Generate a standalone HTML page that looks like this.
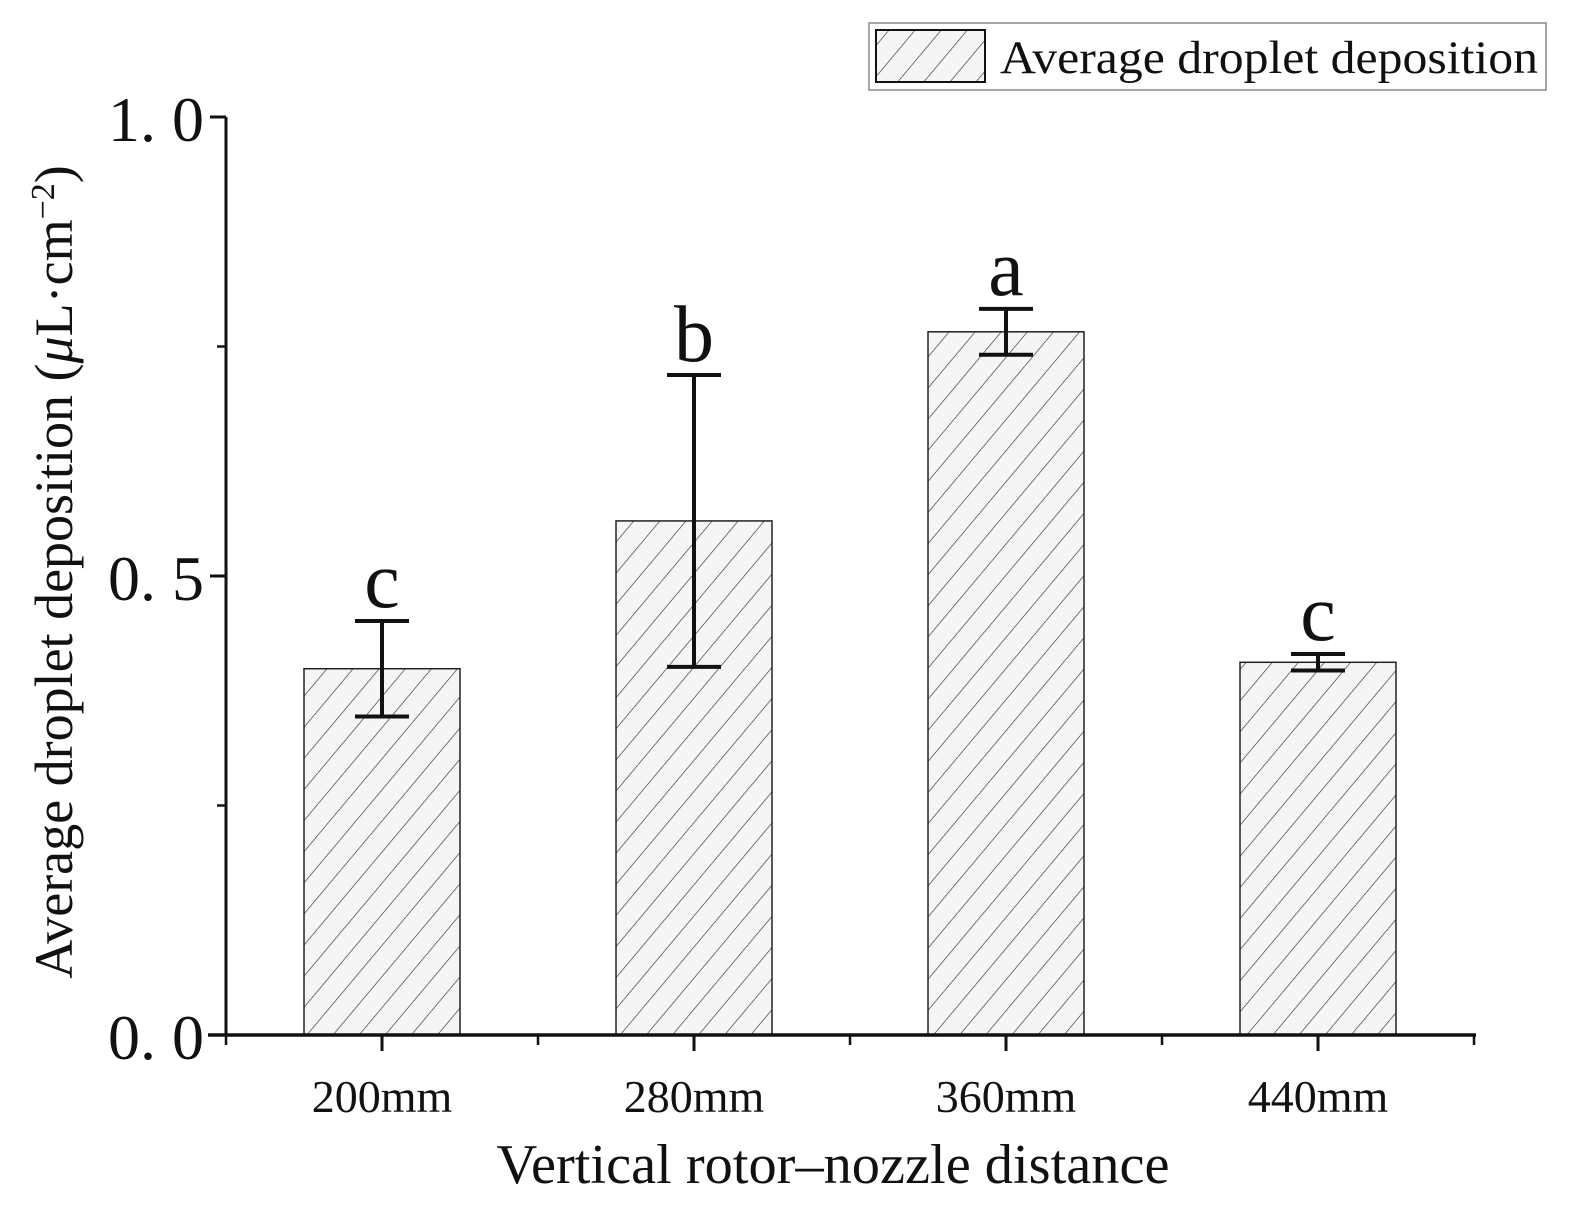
<!DOCTYPE html>
<html><head><meta charset="utf-8"><style>
html,body{margin:0;padding:0;background:#fff;}
svg{display:block;font-family:"Liberation Serif",serif;}
</style></head><body>
<svg id="chart" width="1577" height="1231" viewBox="0 0 1577 1231">
<defs>
<pattern id="hatch" patternUnits="userSpaceOnUse" width="20" height="20" patternTransform="rotate(40)">
<rect width="20" height="20" fill="#f5f5f5"/>
<line x1="0" y1="0" x2="0" y2="20" stroke="#333" stroke-width="1.3"/>
</pattern>
</defs>
<g id="bars"></g>
<g id="axes"></g>
<g>
<rect x="869" y="23" width="677" height="67" fill="#fff" stroke="#888" stroke-width="1.5"/>
<rect x="876" y="30" width="109" height="52" fill="url(#hatch)" stroke="#111" stroke-width="2"/>
<text x="1000" y="73" font-size="47" fill="#111" textLength="538" lengthAdjust="spacingAndGlyphs">Average droplet deposition</text>
</g>
<text x="833" y="1183" font-size="56" text-anchor="middle" fill="#111" textLength="673" lengthAdjust="spacingAndGlyphs">Vertical rotor–nozzle distance</text>
<text transform="translate(72,572) rotate(-90)" font-size="54" text-anchor="middle" fill="#111">Average droplet deposition (<tspan font-style="italic">μ</tspan>L·cm<tspan baseline-shift="super" font-size="34">−2</tspan>)</text>
</svg>
<script>
const categories = ["200mm","280mm","360mm","440mm"];
const values = [0.399, 0.560, 0.766, 0.406];
const errors = [0.052, 0.159, 0.025, 0.009];
const letters = ["c","b","a","c"];
const yTicks = [0.0, 0.5, 1.0];
const yTickLabels = ["0. 0","0. 5","1. 0"];
const yMinorTicks = [0.25, 0.75];

const NS = "http://www.w3.org/2000/svg";
const x0 = 226, x1 = 1474, yBase = 1035, yTop = 117;
const step = (x1 - x0) / categories.length;
const bw = 156;
function xC(i){ return x0 + step*(i+0.5); }
function yS(v){ return yBase - (yBase - yTop) * v; }
function mk(tag, attrs, parent){ const e=document.createElementNS(NS,tag); for(const k in attrs) e.setAttribute(k,attrs[k]); parent.appendChild(e); return e; }
const bars = document.getElementById('bars');
const axes = document.getElementById('axes');

categories.forEach((c,i)=>{
  const cx = xC(i), v = values[i], e = errors[i];
  const r = mk('rect',{x:cx-bw/2,y:yS(v),width:bw,height:yBase-yS(v),fill:'url(#hatch)',stroke:'#222','stroke-width':1.5},bars);
  
  
  const g = mk('g',{stroke:'#111','stroke-width':4,fill:'none'},bars);
  
  
  mk('line',{x1:cx,x2:cx,y1:yS(v+e),y2:yS(v-e)},g);
  mk('line',{x1:cx-27,x2:cx+27,y1:yS(v+e),y2:yS(v+e)},g);
  mk('line',{x1:cx-27,x2:cx+27,y1:yS(v-e),y2:yS(v-e)},g);
  const t = mk('text',{x:cx,y:yS(v+e)-14,'font-size':80,'text-anchor':'middle',fill:'#111'},bars);
  t.textContent = letters[i];
  
  
  const tl = mk('text',{x:cx,y:1112,'font-size':46,'text-anchor':'middle',fill:'#111'},axes);
  tl.textContent = c;
  
  
  mk('line',{x1:cx,x2:cx,y1:yBase,y2:yBase+16,stroke:'#111','stroke-width':3},axes);
});
for(let i=0;i<=categories.length;i++){
  mk('line',{x1:x0+step*i,x2:x0+step*i,y1:yBase,y2:yBase+10,stroke:'#111','stroke-width':2.5},axes);
}
const xa = mk('line',{x1:x0-18,x2:x1+2,y1:yBase,y2:yBase,stroke:'#111','stroke-width':3.5},axes);


const ya = mk('line',{x1:x0,x2:x0,y1:yTop,y2:yBase,stroke:'#111','stroke-width':3},axes);


yTicks.forEach((v,i)=>{
  mk('line',{x1:x0-16,x2:x0,y1:yS(v),y2:yS(v),stroke:'#111','stroke-width':3},axes);
  const t = mk('text',{x:x0-22,y:yS(v)+24,'font-size':64,'text-anchor':'end',fill:'#111'},axes);
  t.textContent = yTickLabels[i];
  
  
});
yMinorTicks.forEach(v=>{
  mk('line',{x1:x0-9,x2:x0,y1:yS(v),y2:yS(v),stroke:'#111','stroke-width':2.5},axes);
});
</script>
</body></html>
